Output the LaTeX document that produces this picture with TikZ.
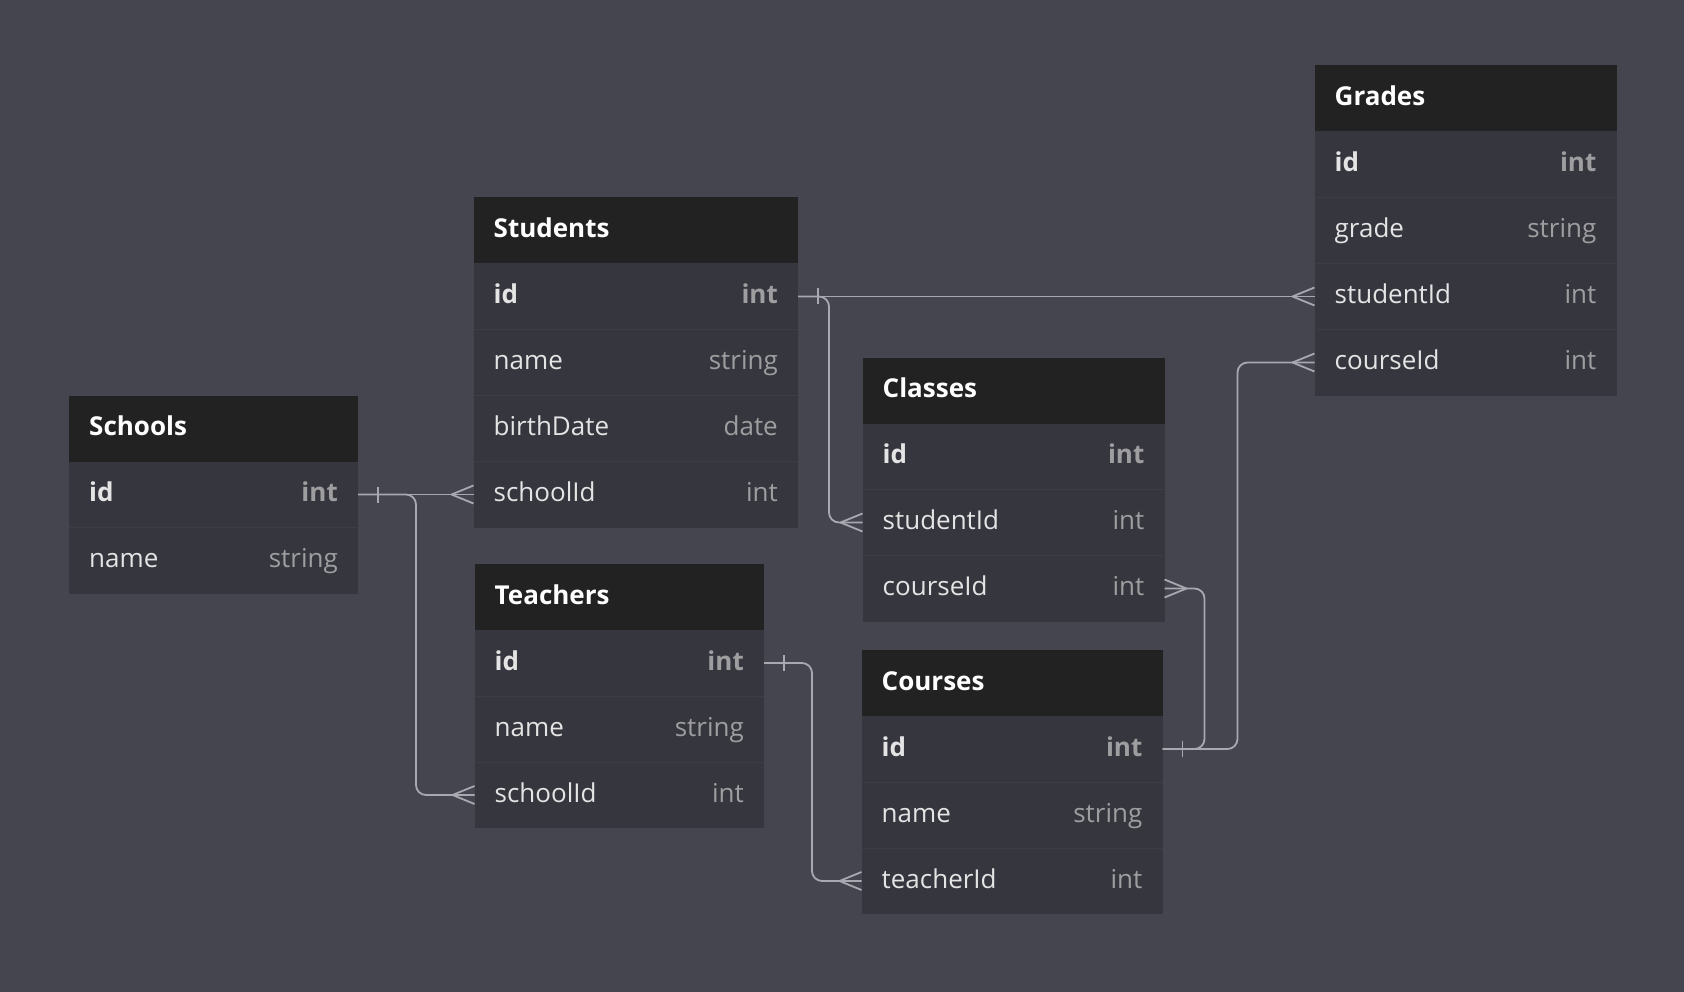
\documentclass[tikz,border=0pt]{standalone}
\usepackage{fontspec}
\setmainfont{Open Sans}
\definecolor{bgc}{RGB}{69,69,79}
\definecolor{hdrc}{RGB}{34,34,34}
\definecolor{rowc}{RGB}{54,54,63}
\definecolor{divc}{RGB}{61,61,70}
\definecolor{connc}{RGB}{168,168,176}
\definecolor{fieldc}{RGB}{228,228,228}
\definecolor{typec}{RGB}{158,158,160}
\tikzset{
  hdrbox/.style={fill=hdrc, draw=none, minimum height=66pt, inner sep=0pt, outer sep=0pt, anchor=north west},
  rowbox/.style={fill=rowc, draw=none, minimum height=66pt, inner sep=0pt, outer sep=0pt, anchor=north west},
  titletxt/.style={anchor=base west, inner sep=0pt, text=white, font=\fontsize{26}{30}\selectfont\bfseries},
  fieldtxt/.style={anchor=base west, inner sep=0pt, text=fieldc, font=\fontsize{26}{30}\selectfont},
  typetxt/.style={anchor=base east, inner sep=0pt, text=typec, font=\fontsize{26}{30}\selectfont},
  divline/.style={draw=divc, line width=1pt},
  conn/.style={draw=connc, line width=1.8pt, rounded corners=10pt},
  tick/.style={draw=connc, line width=1.8pt},
}
% #1 id, #2 x, #3 y, #4 width, #5 title, #6 rows field/type
\newcommand\ertable[6]{%
  \node[hdrbox, minimum width=#4pt] (#1) at (#2,#3) {};
  \node[titletxt] (#1-title) at ([xshift=20pt,yshift=-7pt]#1.west) {#5};
  \foreach \f/\t [count=\i] in {#6} {
    \node[rowbox, minimum width=#4pt] (#1-\f) at (#2,#3+66*\i) {};
    \ifnum\i>1 \draw[divline] (#1-\f.north west) -- (#1-\f.north east);\fi
    \node[fieldtxt] (#1-\f-n) at ([xshift=20pt,yshift=-7pt]#1-\f.west) {\ifnum\i=1 \bfseries\fi\f};
    \node[typetxt] (#1-\f-t) at ([xshift=-20pt,yshift=-7pt]#1-\f.east) {\ifnum\i=1 \bfseries\fi\t};
  }
}
% crow's foot opening at anchor #1, direction #2 (+1 right side, -1 left side)
\newcommand\crow[2]{%
  \draw[tick] ([xshift=#2*22pt]#1) -- ([yshift=9pt]#1);
  \draw[tick] ([xshift=#2*22pt]#1) -- ([yshift=-9pt]#1);
}
\newcommand\onebar[2]{%
  \draw[tick] ([xshift=#2*20pt,yshift=8pt]#1) -- ([xshift=#2*20pt,yshift=-8pt]#1);
}
\begin{document}
\begin{tikzpicture}[x=1pt,y=-1pt]
\fill[bgc] (0,0) rectangle (1684,992);
\useasboundingbox (0,0) rectangle (1684,992);

\ertable{schools}{69}{395.5}{289}{Schools}{id/int,name/string}
\ertable{students}{473.5}{197.5}{324.5}{Students}{id/int,name/string,birthDate/date,schoolId/int}
\ertable{classes}{862.5}{357.5}{302}{Classes}{id/int,studentId/int,courseId/int}
\ertable{grades}{1314.5}{65.5}{302}{Grades}{id/int,grade/string,studentId/int,courseId/int}
\ertable{teachers}{474.5}{564}{289.5}{Teachers}{id/int,name/string,schoolId/int}
\ertable{courses}{861.5}{650}{301}{Courses}{id/int,name/string,teacherId/int}

% connectors
\draw[conn] (schools-id.east) -- (students-schoolId.west);
\draw[conn] (schools-id.east) -- ([xshift=58pt]schools-id.east) |- (teachers-schoolId.west);
\draw[conn] (students-id.east) -- (grades-studentId.west);
\draw[conn] (students-id.east) -- ([xshift=31pt]students-id.east) |- (classes-studentId.west);
\draw[conn] (classes-courseId.east) -- ([xshift=40pt]classes-courseId.east) |- (courses-id.east);
\draw[conn] (grades-courseId.west) -- ([xshift=-77pt]grades-courseId.west) |- (courses-id.east);
\draw[conn] (teachers-id.east) -- ([xshift=48pt]teachers-id.east) |- (courses-teacherId.west);

% ends
\onebar{schools-id.east}{1}
\onebar{students-id.east}{1}
\onebar{teachers-id.east}{1}
\onebar{courses-id.east}{1}
\crow{students-schoolId.west}{-1}
\crow{teachers-schoolId.west}{-1}
\crow{classes-studentId.west}{-1}
\crow{grades-studentId.west}{-1}
\crow{grades-courseId.west}{-1}
\crow{courses-teacherId.west}{-1}
\crow{classes-courseId.east}{1}
\end{tikzpicture}
\end{document}
